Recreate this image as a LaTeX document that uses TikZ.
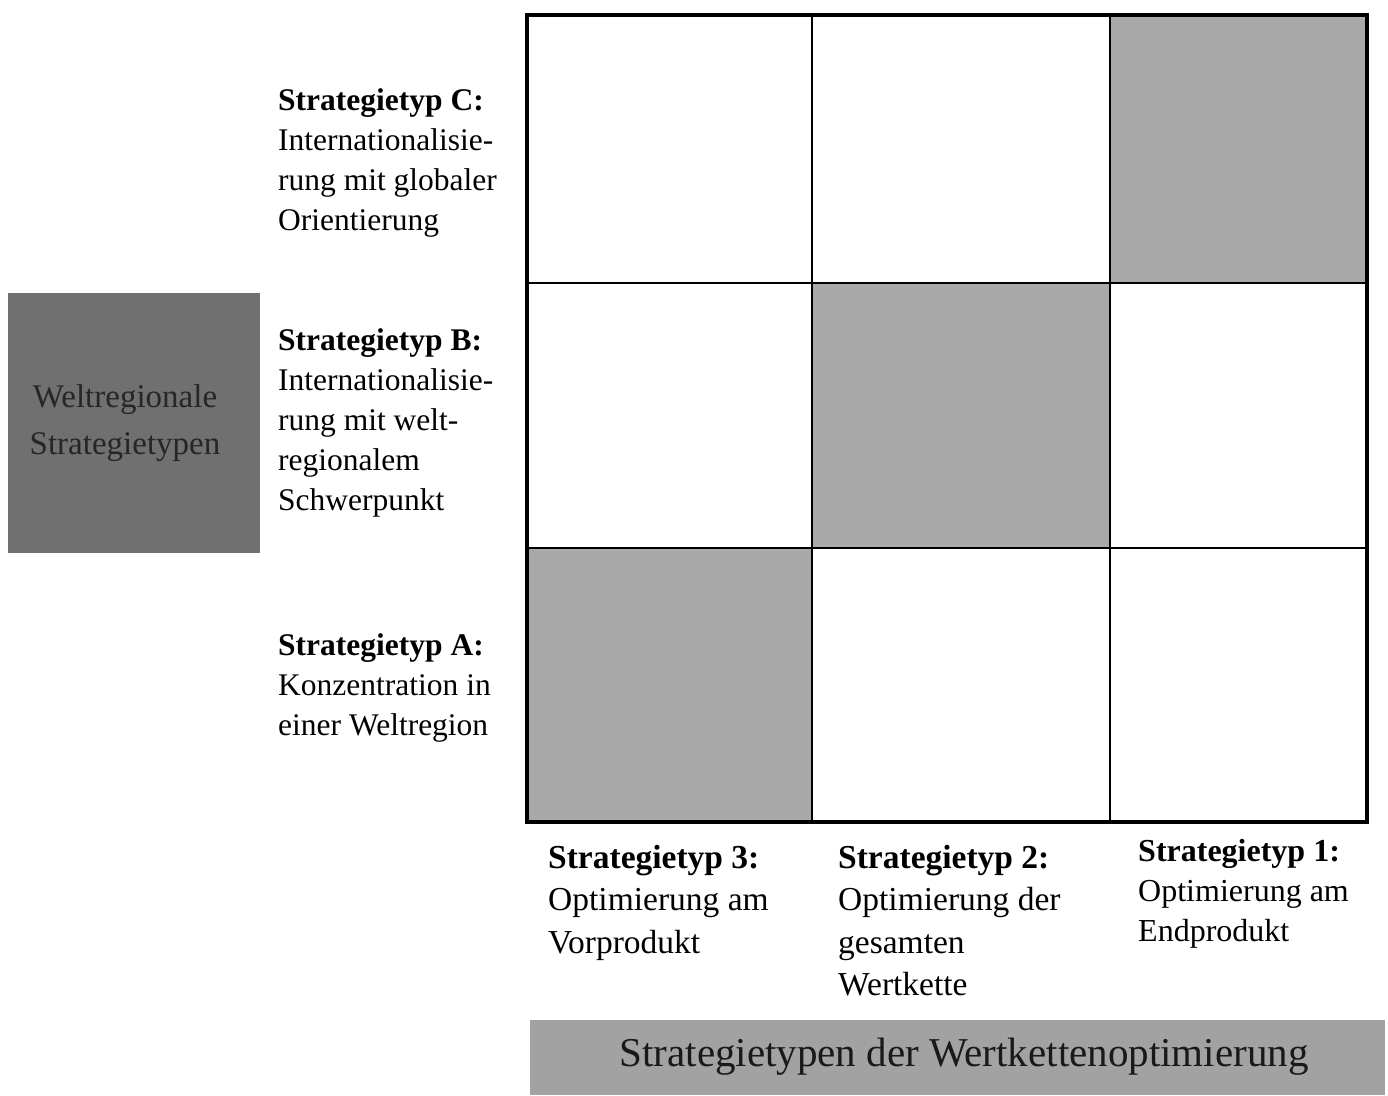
\documentclass[tikz,border=0pt]{standalone}
\usepackage{fontspec}
\setmainfont{Liberation Serif}
\definecolor{cellgray}{HTML}{A9A9A9}
\definecolor{boxgray}{HTML}{707070}
\definecolor{bargray}{HTML}{A2A2A2}
\begin{document}
\begin{tikzpicture}[x=1pt,y=-1pt,
  lbl/.style={anchor=north west,align=left,inner sep=0pt,font=\fontsize{31.5}{40}\selectfont},
  blbl/.style={anchor=north west,align=left,inner sep=0pt,font=\fontsize{33.5}{42.5}\selectfont},
  shaded/.style={fill=cellgray}]
\useasboundingbox (0,0) rectangle (1388,1095);
% shaded cells
\fill[shaded] (527,548) rectangle (812,822);
\fill[shaded] (812,283) rectangle (1110,548);
\fill[shaded] (1110,15) rectangle (1367,283);
% grid lines
\draw[line width=1.5pt] (812,15) -- (812,822) (1110,15) -- (1110,822);
\draw[line width=1.5pt] (527,283) -- (1367,283) (527,548) -- (1367,548);
\node[draw=black,line width=4pt,minimum width=840pt,minimum height=807pt,inner sep=0pt] (frame) at (947,418.5) {};
% left box
\node[fill=boxgray,minimum width=252pt,minimum height=260pt,inner sep=0pt] (wbox) at (134,423) {};
\node[align=center,font=\fontsize{33}{47}\selectfont,text=black!85] (wtext) at (125,423) {Weltregionale\\Strategietypen};
% left labels
\node[lbl] (sc) at (278,88.5) {\textbf{Strategietyp C:}\\Internationalisie-\\rung mit globaler\\Orientierung};
\node[lbl] (sb) at (278,328) {\textbf{Strategietyp B:}\\Internationalisie-\\rung mit welt-\\regionalem\\Schwerpunkt};
\node[lbl] (sa) at (278,633) {\textbf{Strategietyp A:}\\Konzentration in\\einer Weltregion};
% bottom labels
\node[blbl] (s3) at (548,845) {\textbf{Strategietyp 3:}\\Optimierung am\\Vorprodukt};
\node[blbl] (s2) at (838,845) {\textbf{Strategietyp 2:}\\Optimierung der\\gesamten\\Wertkette};
\node[blbl,font=\fontsize{32}{40}\selectfont] (s1) at (1138,839) {\textbf{Strategietyp 1:}\\Optimierung am\\Endprodukt};
% bottom bar
\node[fill=bargray,minimum width=855pt,minimum height=75pt,inner sep=0pt] (bar) at (957.5,1057) {};
\node[font=\fontsize{41}{44}\selectfont,text=black!90] (bartext) at (964,1057) {Strategietypen der Wertkettenoptimierung};
\end{tikzpicture}
\end{document}
